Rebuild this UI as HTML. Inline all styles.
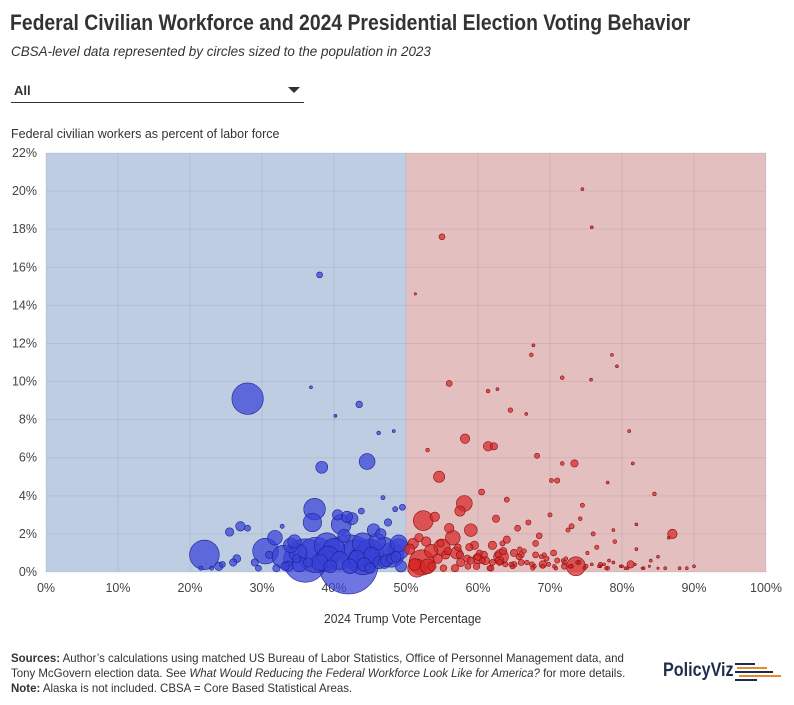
<!DOCTYPE html>
<html><head><meta charset="utf-8">
<style>
body{margin:0;background:#fff;font-family:"Liberation Sans",sans-serif;color:#333;}
#wrap{position:relative;width:794px;height:705px;overflow:hidden;}
.t{position:absolute;white-space:nowrap;transform-origin:0 0;}
</style></head>
<body>
<div id="wrap">
<div class="t" style="left:10px;top:10px;font-size:22px;font-weight:bold;color:#333;transform:scaleX(0.88)">Federal Civilian Workforce and 2024 Presidential Election Voting Behavior</div>
<div class="t" style="left:11px;top:43px;font-size:14px;font-style:italic;color:#333;transform:scaleX(0.96)">CBSA-level data represented by circles sized to the population in 2023</div>
<div class="t" style="left:11px;top:80px;width:293px;height:22px;border-bottom:1px solid #333;">
<span style="position:absolute;left:3px;top:3px;font-size:13px;font-weight:bold">All</span>
<span style="position:absolute;right:4px;top:7px;width:0;height:0;border-left:6px solid transparent;border-right:6px solid transparent;border-top:6px solid #333"></span>
</div>
<div class="t" style="left:11px;top:126px;font-size:13px;transform:scaleX(0.96)">Federal civilian workers as percent of labor force</div>
<svg id="chart" width="794" height="705" style="position:absolute;left:0;top:0"></svg>
<div class="t" style="left:324px;top:611px;font-size:13px;transform:scaleX(0.93)">2024 Trump Vote Percentage</div>
<div class="t" style="left:11px;top:651px;font-size:12px;line-height:15px;color:#333;transform:scaleX(0.955)">
<b>Sources:</b> Author’s calculations using matched US Bureau of Labor Statistics, Office of Personnel Management data, and<br>
Tony McGovern election data. See <i>What Would Reducing the Federal Workforce Look Like for America?</i> for more details.<br>
<b>Note:</b> Alaska is not included. CBSA = Core Based Statistical Areas.</div>
<div class="t" style="left:663px;top:660px;font-size:19px;font-weight:bold;color:#1f2d4d;transform:scaleX(0.85)">PolicyViz</div>
<svg width="60" height="20" style="position:absolute;left:735px;top:663px">
<rect x="0" y="0" width="20" height="2" fill="#1f2d4d"/><rect x="2" y="4" width="30" height="2" fill="#e88a2c"/><rect x="0" y="8" width="38" height="2" fill="#1f2d4d"/><rect x="4" y="12" width="42" height="2" fill="#e88a2c"/><rect x="0" y="16" width="22" height="2" fill="#1f2d4d"/>
</svg>
</div>
<script>
const xTicks=[0,10,20,30,40,50,60,70,80,90,100];
const yTicks=[0,2,4,6,8,10,12,14,16,18,20,22];
// Trump vote %, federal workers %, population (millions)
const voteX=[28,38,36.8,40.2,43.5,38.3,44.6,46.2,48.3,37.3,22,30.5,36,42,37.5,41,42.5,27,28,29,32.8,35,33,34,39,40,43,45,46,47,48,49,24,26,21.5,25.5,31,34.5,37,44,45.5,46.5,47.5,48.5,49.5,44,46.8,49,35.2,33.6,26.5,29.5,32,38.8,40.5,41.8,43.8,39.5,48,47,24.5,23,
74.5,75.8,55,51.3,67.7,67.4,78.6,79.3,71.7,75.7,56,61.4,62.7,81,64.5,66.7,58.2,61.4,81.5,71.7,73.4,54.6,58.1,52.4,52.2,55,57,60,63,66,69,72,75,78,51,53.5,56.5,59,62,65,68,71,74,77,80,83,86,89,60.5,64,67,70,73,76,79,82,85,57.5,62.5,65.5,68.5,72.5,76.5,59.5,63.5,70.5,54,58.5,61,66,69.5,53,57.5,63,67.5,72,77.5,84,88,90,51.5,56,60,64,68,71,74.5,78,82,86.5,55.5,59,62,65,69,73,77,80.5,53,62.2,68.2,70.2,74.2,78.8,84.5,65.7,60.8,63.2,
50.5,51.2,52.8,53.6,54.4,55.8,56.8,57.6,58.8,59.8,60.6,61.8,62.8,63.8,64.8,65.8,66.8,67.8,68.8,69.8,70.8,71.8,72.8,73.8,74.8,75.8,76.8,77.8,78.8,79.8,80.8,81.8,82.8,83.8,85,87,51.8,54.8,57.2,60.2,63.4,66.4,69.2,72.2,75.2,78.2,81.2,55.2,58.6,61.6,64.6,67.6,70.6,73.6,
38,39.2,40.8,42.2,43.2,44.2,45.2,46.3,47.3,48.6,49.3,36.4,34.8,33.2,31.8,41.4,45,39.8];
const fedPct=[9.1,15.6,9.7,8.2,8.8,5.5,5.8,7.3,7.4,3.3,0.9,1.1,0.6,0.4,0.9,2.5,2.8,2.4,2.3,0.5,2.4,1.0,0.8,1.4,1.4,1.2,0.9,1.0,1.6,1.3,0.9,1.2,0.3,0.5,0.2,2.1,0.9,1.6,2.6,1.5,2.2,2.0,2.6,3.3,3.4,0.6,3.9,1.5,0.4,0.3,0.7,0.2,0.2,0.6,3.0,2.9,3.2,0.3,0.7,0.5,0.4,0.2,
20.1,18.1,17.6,14.6,11.9,11.4,11.4,10.8,10.2,10.1,9.9,9.5,9.6,7.4,8.5,8.3,7.0,6.6,5.7,5.7,5.7,5.0,3.6,2.7,0.5,1.3,1.0,0.8,0.6,0.5,0.4,0.3,0.3,0.2,1.5,1.1,1.8,2.2,1.4,1.0,0.9,0.6,0.5,0.4,0.3,0.2,0.2,0.2,4.2,3.8,2.6,3.0,2.4,2.0,1.6,1.2,0.8,3.2,2.8,2.3,1.9,2.2,1.3,1.4,1.1,1.0,2.9,0.7,0.6,0.9,0.7,0.3,0.9,0.5,0.4,0.5,0.4,0.6,0.2,0.3,0.2,2.3,0.7,1.7,1.5,4.8,3.5,4.7,2.5,1.8,0.9,0.6,0.5,0.4,0.3,0.3,0.3,0.2,6.4,6.6,6.1,4.8,2.8,2.2,4.1,0.8,0.9,
0.8,1.2,0.4,1.6,0.3,0.7,1.1,0.2,0.5,1.3,0.3,0.6,0.2,0.9,0.4,0.3,1.2,0.5,0.3,0.8,0.4,0.2,0.6,0.3,0.5,0.2,0.4,0.3,0.2,0.5,0.3,0.2,0.4,0.2,0.3,0.2,2.0,1.8,1.5,1.3,1.0,1.5,1.1,0.9,0.7,1.0,0.6,0.4,0.2,0.3,0.2,0.4,0.2,0.3,
0.3,0.5,0.8,0.6,0.3,0.7,0.4,0.9,0.5,0.6,0.8,0.3,0.5,0.7,0.3,1.8,1.9,0.2];
const population=[5.5,0.2,0.05,0.05,0.25,0.8,1.4,0.08,0.05,2.6,4.9,3.7,10.5,19.5,7,2.2,0.8,0.5,0.2,0.3,0.1,1.8,3,1.2,3.5,2.6,5,4.2,1.5,2.2,3.4,2.4,0.4,0.3,0.1,0.4,0.3,1,1.9,2.5,0.9,0.6,0.3,0.15,0.2,4.5,0.1,1.6,1.2,0.6,0.35,0.2,0.3,2.6,0.6,0.7,0.2,0.9,0.6,0.8,0.2,0.1,
0.05,0.05,0.2,0.02,0.05,0.08,0.05,0.05,0.08,0.05,0.2,0.08,0.05,0.05,0.12,0.05,0.5,0.5,0.05,0.08,0.3,0.7,1.4,2.2,3.6,1.5,0.8,0.3,0.4,0.2,0.3,0.2,0.1,0.1,0.6,1,1.2,0.9,0.4,0.3,0.2,0.15,0.1,0.1,0.05,0.05,0.05,0.05,0.2,0.15,0.15,0.1,0.15,0.1,0.08,0.05,0.05,0.6,0.3,0.2,0.2,0.1,0.1,0.4,0.3,0.2,0.5,0.3,0.4,0.2,0.15,1.2,0.3,0.2,0.15,0.1,0.05,0.05,0.05,0.05,1.8,0.5,0.6,0.3,0.2,0.15,0.1,0.05,0.05,0.05,0.4,0.3,0.2,0.2,0.1,0.08,0.05,0.05,0.08,0.3,0.15,0.1,0.08,0.05,0.08,0.2,0.3,
1.2,0.6,0.8,0.5,0.4,0.5,0.3,0.3,0.4,0.3,0.25,0.2,0.2,0.2,0.15,0.15,0.12,0.12,0.1,0.1,0.1,0.08,0.08,0.08,0.06,0.06,0.05,0.05,0.05,0.05,0.04,0.04,0.04,0.03,0.03,0.03,0.5,0.4,0.3,0.25,0.2,0.15,0.12,0.1,0.08,0.06,0.05,0.3,0.25,0.2,0.15,0.12,0.1,0.08,
2,1.5,2.5,1.8,1.2,1.5,1.0,1.3,0.9,0.8,0.6,0.7,0.5,0.4,0.4,1.2,0.9,0.6];
const svg=document.getElementById('chart');
const NS='http://www.w3.org/2000/svg';
const X0=46,X1=766,Y0=572,Y1=153;
const sx=v=>X0+(X1-X0)*v/100;
const sy=v=>Y0-(Y0-Y1)*v/22;
const sr=p=>6.7*Math.sqrt(p);
function mk(t,a){const e=document.createElementNS(NS,t);for(const k in a)e.setAttribute(k,a[k]);svg.appendChild(e);return e;}
let bg=mk('rect',{x:sx(0),y:Y1,width:sx(50)-sx(0),height:Y0-Y1,fill:'#bfcde3'});


let bg2=mk('rect',{x:sx(50),y:Y1,width:sx(100)-sx(50),height:Y0-Y1,fill:'#e4bfc0'});


xTicks.forEach(v=>{
  let g=mk('line',{x1:sx(v),x2:sx(v),y1:Y1,y2:Y0,stroke:'rgba(120,130,150,0.18)','stroke-width':1});
  
  
  let t=mk('text',{x:sx(v),y:592,'text-anchor':'middle','font-size':12.5,fill:'#444','font-family':'Liberation Sans, sans-serif'});
  t.textContent=v+'%';
  
  
});
yTicks.forEach(v=>{
  let g=mk('line',{x1:X0,x2:X1,y1:sy(v),y2:sy(v),stroke:'rgba(120,130,150,0.18)','stroke-width':1});
  
  
  let t=mk('text',{x:37,y:sy(v)+4,'text-anchor':'end','font-size':12.5,fill:'#444','font-family':'Liberation Sans, sans-serif'});
  t.textContent=v+'%';
  
  
});
const idx=voteX.map((v,i)=>i).sort((a,b)=>population[b]-population[a]);
idx.forEach(i=>{
  const dem=voteX[i]<50;
  let c=mk('circle',{cx:sx(voteX[i]),cy:sy(fedPct[i]),r:Math.max(1.2,sr(population[i])),
    fill:dem?'rgba(55,65,215,0.72)':'rgba(215,40,40,0.72)',
    stroke:dem?'#1a2290':'#8a1010','stroke-width':0.6});
  
  
});
</script>
</body></html>
